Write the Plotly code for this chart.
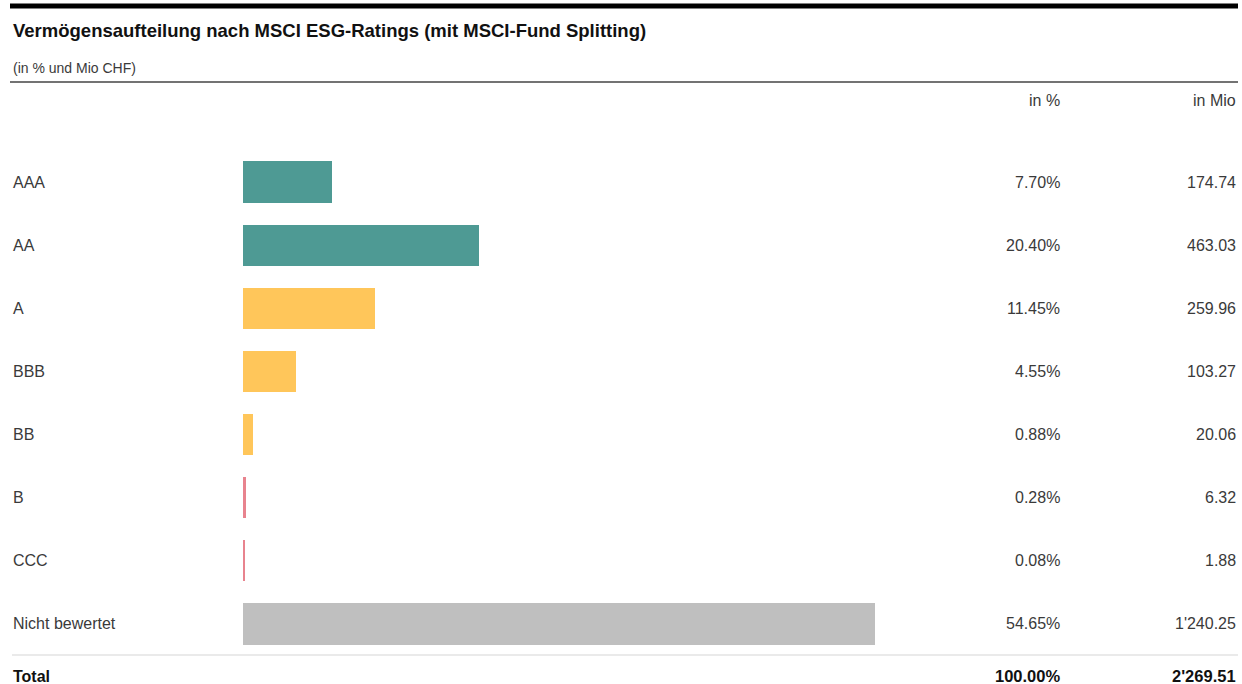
import plotly.graph_objects as go

categories = ["AAA", "AA", "A", "BBB", "BB", "B", "CCC", "Nicht bewertet"]
percent_values = [7.70, 20.40, 11.45, 4.55, 0.88, 0.28, 0.08, 54.65]
mio_values = [174.74, 463.03, 259.96, 103.27, 20.06, 6.32, 1.88, 1240.25]
bar_colors = ["#4E9A94", "#4E9A94", "#FFC65A", "#FFC65A", "#FFC65A",
              "#E8838E", "#E8838E", "#BFBFBF"]
total_percent = 100.00
total_mio = 2269.51

title = "Vermögensaufteilung nach MSCI ESG-Ratings (mit MSCI-Fund Splitting)"
subtitle = "(in % und Mio CHF)"
col_headers = ["in %", "in Mio"]

W, H = 1242, 684
FONT = "Liberation Sans, Arial, sans-serif"
TXT = "#3a3a3a"


def fmt_mio(v):
    s = f"{v:,.2f}"
    return s.replace(",", "'")


def py(px):
    return 1 - px / H


def pxx(px):
    return px / W


# bar rendering: some very small values need a minimum visible width
display_vals = [max(v, 0.12) for v in percent_values]

fig = go.Figure()
fig.add_trace(go.Bar(
    y=list(range(len(categories))),
    x=display_vals,
    orientation="h",
    marker=dict(color=bar_colors, line=dict(width=0)),
    width=0.65,
    hoverinfo="skip",
    showlegend=False,
))

x0px = 243
scale = 11.56  # px per percent
xmax = (W - x0px) / scale
row0 = 182
rowstep = 63.14
ytop = -row0 / rowstep
ybot = (H - row0) / rowstep

annotations = []
annotations.append(dict(x=pxx(11), y=py(30), xref="paper", yref="paper",
                        text="<b>" + title + "</b>", showarrow=False,
                        xanchor="left", yanchor="middle",
                        font=dict(family=FONT, size=18.5, color="#111111")))
annotations.append(dict(x=pxx(11), y=py(68), xref="paper", yref="paper",
                        text=subtitle, showarrow=False,
                        xanchor="left", yanchor="middle",
                        font=dict(family=FONT, size=14, color=TXT)))
annotations.append(dict(x=pxx(1062), y=py(101), xref="paper", yref="paper",
                        text=col_headers[0], showarrow=False,
                        xanchor="right", yanchor="middle",
                        font=dict(family=FONT, size=16, color=TXT)))
annotations.append(dict(x=pxx(1238), y=py(101), xref="paper", yref="paper",
                        text=col_headers[1], showarrow=False,
                        xanchor="right", yanchor="middle",
                        font=dict(family=FONT, size=16, color=TXT)))

for i, (c, p, m) in enumerate(zip(categories, percent_values, mio_values)):
    annotations.append(dict(x=pxx(11), y=i, xref="paper", yref="y",
                            text=c, showarrow=False, xanchor="left",
                            yanchor="middle",
                            font=dict(family=FONT, size=16, color=TXT)))
    annotations.append(dict(x=pxx(1062), y=i, xref="paper", yref="y",
                            text=f"{p:.2f}%", showarrow=False, xanchor="right",
                            yanchor="middle",
                            font=dict(family=FONT, size=16, color=TXT)))
    annotations.append(dict(x=pxx(1238), y=i, xref="paper", yref="y",
                            text=fmt_mio(m), showarrow=False, xanchor="right",
                            yanchor="middle",
                            font=dict(family=FONT, size=16, color=TXT)))

annotations.append(dict(x=pxx(11), y=py(676), xref="paper", yref="paper",
                        text="<b>Total</b>", showarrow=False, xanchor="left",
                        yanchor="middle",
                        font=dict(family=FONT, size=16, color="#111111")))
annotations.append(dict(x=pxx(1062), y=py(676), xref="paper", yref="paper",
                        text=f"<b>{total_percent:.2f}%</b>", showarrow=False,
                        xanchor="right", yanchor="middle",
                        font=dict(family=FONT, size=16.5, color="#111111")))
annotations.append(dict(x=pxx(1238), y=py(676), xref="paper", yref="paper",
                        text=f"<b>{fmt_mio(total_mio)}</b>", showarrow=False,
                        xanchor="right", yanchor="middle",
                        font=dict(family=FONT, size=16.5, color="#111111")))

shapes = [
    dict(type="line", xref="paper", yref="paper", x0=pxx(10), x1=pxx(1238),
         y0=py(6), y1=py(6), line=dict(color="#000000", width=5)),
    dict(type="line", xref="paper", yref="paper", x0=pxx(10), x1=pxx(1238),
         y0=py(82), y1=py(82), line=dict(color="#444444", width=1.5)),
    dict(type="line", xref="paper", yref="paper", x0=pxx(12), x1=pxx(1238),
         y0=py(655), y1=py(655), line=dict(color="#D6D6D6", width=1.2)),
]

fig.update_layout(
    width=W, height=H,
    margin=dict(l=0, r=0, t=0, b=0),
    paper_bgcolor="white", plot_bgcolor="white",
    xaxis=dict(domain=[x0px / W, 1], range=[0, xmax], visible=False,
               fixedrange=True),
    yaxis=dict(domain=[0, 1], range=[ybot, ytop], visible=False,
               fixedrange=True),
    annotations=annotations,
    shapes=shapes,
    bargap=0,
)

fig.write_html(
    "out.html",
    config={"displayModeBar": False},
    post_script="document.body.style.margin='0';document.body.style.overflow='hidden';",
)
